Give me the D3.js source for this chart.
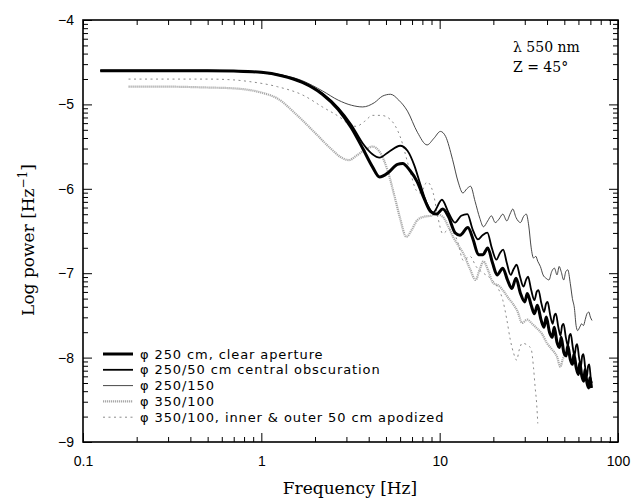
<!DOCTYPE html>
<html><head><meta charset="utf-8">
<script src="https://cdn.jsdelivr.net/npm/d3@7"></script>
<style>body{margin:0;background:#fff}svg{display:block}</style>
</head><body>
<script>
const xTicks = [0.1, 1, 10, 100];
const xTickLabels = ["0.1", "1", "10", "100"];
const yTicks = [-9, -8, -7, -6, -5, -4];
const yTickLabels = ["\u22129", "\u22128", "\u22127", "\u22126", "\u22125", "\u22124"];
const legendLabels = [
  "\u03c6 250 cm, clear aperture",
  "\u03c6 250/50 cm central obscuration",
  "\u03c6 250/150",
  "\u03c6 350/100",
  "\u03c6 350/100, inner & outer 50 cm apodized"
];
const clearAperture = [[0.125,-4.60],[0.2,-4.60],[0.3,-4.60],[0.5,-4.60],[0.7,-4.605],[1.0,-4.62],[1.3,-4.66],[1.7,-4.74],[2.2,-4.88],[2.7,-5.06],[3.2,-5.28],[3.7,-5.52],[4.2,-5.74],[4.6,-5.86],[5.2,-5.80],[5.8,-5.71],[6.2,-5.70],[6.8,-5.78],[7.5,-5.92],[8.2,-6.12],[8.9,-6.27],[9.6,-6.30],[10.4,-6.24],[11.2,-6.33],[12.2,-6.52],[13.0,-6.55],[14.4,-6.46],[15.4,-6.60],[16.5,-6.78],[17.5,-6.78],[18.6,-6.70],[19.8,-6.88],[21,-7.02],[22.6,-6.94],[24,-7.08],[25.4,-7.18],[26.8,-7.06],[28.4,-7.24],[30,-7.34],[31,-7.24],[32.6,-7.38],[34,-7.48],[35.3,-7.38],[37,-7.55],[38.5,-7.64],[39.6,-7.52],[41.3,-7.70],[42.8,-7.76],[43.9,-7.64],[45.5,-7.82],[47,-7.88],[48,-7.76],[49.7,-7.94],[51.2,-7.98],[52.3,-7.86],[54,-8.02],[55.6,-8.08],[56.6,-7.96],[58.3,-8.12],[60,-8.2],[61,-8.06],[62.7,-8.22],[64.3,-8.28],[65.3,-8.14],[67,-8.30],[68.6,-8.36],[69.5,-8.24],[71,-8.36]];
const centralObsc = [[0.125,-4.60],[0.3,-4.60],[0.5,-4.60],[0.7,-4.605],[1.0,-4.62],[1.3,-4.66],[1.7,-4.74],[2.2,-4.87],[2.7,-5.04],[3.2,-5.24],[3.7,-5.46],[4.2,-5.59],[4.6,-5.63],[5.2,-5.56],[6.0,-5.49],[6.6,-5.55],[7.2,-5.72],[7.8,-5.95],[8.5,-6.18],[9.2,-6.28],[10.3,-6.13],[11.2,-6.28],[12.2,-6.40],[13.2,-6.32],[14.3,-6.30],[15.3,-6.48],[16.4,-6.60],[17.4,-6.55],[18.5,-6.52],[19.6,-6.70],[20.8,-6.84],[21.8,-6.76],[22.7,-6.72],[23.8,-6.88],[25,-7.02],[26,-6.95],[27,-6.90],[28.2,-7.04],[29.5,-7.16],[30.5,-7.08],[31.3,-7.04],[32.6,-7.20],[34,-7.32],[35,-7.22],[35.8,-7.20],[37.2,-7.36],[38.5,-7.46],[39.5,-7.36],[40.3,-7.34],[41.7,-7.50],[43,-7.60],[44,-7.50],[44.8,-7.48],[46.3,-7.64],[47.6,-7.74],[48.6,-7.62],[49.5,-7.60],[51,-7.76],[52.4,-7.86],[53.4,-7.74],[54.3,-7.72],[55.8,-7.88],[57,-7.98],[58.2,-7.86],[59,-7.84],[60.5,-8.0],[62,-8.10],[63,-7.98],[64,-7.96],[65.5,-8.12],[67,-8.22],[68,-8.10],[69,-8.08],[70.5,-8.26],[71.5,-8.30]];
const obsc150 = [[0.125,-4.60],[0.3,-4.60],[0.5,-4.60],[0.7,-4.605],[1.0,-4.62],[1.3,-4.65],[1.7,-4.72],[2.2,-4.84],[2.7,-4.95],[3.2,-5.01],[3.7,-5.03],[4.3,-4.98],[4.8,-4.90],[5.3,-4.88],[5.9,-4.95],[6.6,-5.08],[7.5,-5.33],[8.5,-5.48],[9.3,-5.40],[10.1,-5.32],[10.8,-5.38],[11.8,-5.65],[12.7,-5.92],[13.5,-6.05],[14.2,-6.00],[14.9,-5.97],[15.8,-6.15],[16.8,-6.35],[17.6,-6.45],[18.6,-6.38],[19.5,-6.32],[20.5,-6.40],[21.5,-6.36],[22.6,-6.30],[23.8,-6.38],[24.8,-6.30],[25.7,-6.24],[26.8,-6.34],[28.4,-6.40],[29.5,-6.33],[30.6,-6.30],[31.6,-6.44],[32.6,-6.70],[33.6,-6.82],[34.6,-6.80],[35.5,-6.86],[36.7,-6.92],[38,-7.02],[39.5,-7.06],[41,-7.08],[42.5,-6.98],[44,-6.94],[45.5,-7.02],[46.8,-6.92],[48,-6.98],[49.6,-7.08],[51,-6.98],[52.3,-6.96],[54,-7.12],[55.5,-7.30],[57,-7.42],[58.2,-7.62],[59.4,-7.68],[61,-7.64],[62.5,-7.60],[64,-7.62],[65.5,-7.55],[67,-7.48],[68.6,-7.46],[70,-7.52],[71.5,-7.56]];
const obsc350 = [[0.18,-4.79],[0.3,-4.79],[0.5,-4.80],[0.7,-4.81],[0.86,-4.83],[1.0,-4.86],[1.23,-4.93],[1.59,-5.13],[2.05,-5.36],[2.44,-5.52],[2.87,-5.64],[3.1,-5.66],[3.4,-5.61],[3.8,-5.54],[4.2,-5.50],[4.6,-5.56],[5.1,-5.78],[5.6,-6.10],[6.0,-6.35],[6.5,-6.57],[7.0,-6.48],[7.5,-6.37],[8.2,-6.33],[8.9,-6.32],[9.6,-6.30],[10.4,-6.33],[11.2,-6.45],[11.9,-6.57],[12.8,-6.68],[13.6,-6.77],[14.8,-6.95],[15.9,-7.08],[16.8,-6.95],[17.6,-6.86],[18.8,-6.98],[20,-7.12],[21.2,-7.14],[22.6,-7.20],[24,-7.28],[25.7,-7.36],[27.3,-7.45],[29,-7.59],[31,-7.55],[33,-7.60],[35,-7.65],[37.5,-7.72],[40,-7.83],[42.5,-7.90],[45.5,-7.99],[47.5,-8.11],[49,-8.02],[50.5,-7.96]];
const apodized = [[0.18,-4.70],[0.3,-4.70],[0.5,-4.70],[0.7,-4.71],[0.86,-4.73],[1.23,-4.79],[1.71,-4.89],[2.2,-5.03],[2.87,-5.18],[3.1,-5.24],[3.4,-5.26],[3.8,-5.20],[4.2,-5.13],[4.7,-5.13],[5.3,-5.18],[6.0,-5.38],[6.8,-5.78],[7.4,-6.02],[7.8,-6.05],[8.5,-5.92],[9.2,-6.05],[9.8,-6.35],[10.4,-6.53],[11.3,-6.48],[12.5,-6.60],[13.6,-6.85],[14.8,-6.80],[16,-6.92],[17.6,-7.00],[19,-7.05],[21,-7.16],[22.6,-7.32],[23.8,-7.55],[24.9,-7.79],[26,-7.95],[27,-8.03],[28,-7.90],[29,-7.83],[31,-7.85],[32.6,-7.90],[33.6,-8.12],[34.3,-8.35],[35,-8.55],[35.5,-8.78]];

const W = 635, H = 502;
const m = {left: 83, right: 618, top: 20, bottom: 442};
const svg = d3.select("body").append("svg").attr("width", W).attr("height", H);
const x = d3.scaleLog().domain([0.1, 100]).range([m.left, m.right]);
const y = d3.scaleLinear().domain([-9, -4]).range([m.bottom, m.top]);

const series = [
  {data: clearAperture, color: "#000", width: 3, dash: null},
  {data: centralObsc, color: "#000", width: 1.8, dash: null},
  {data: obsc150, color: "#333", width: 0.9, dash: null},
  {data: obsc350, color: "#a8a8a8", width: 2.2, dash: "1.2 0.8"},
  {data: apodized, color: "#8a8a8a", width: 1, dash: "2 3.5"}
];

const line = d3.line().x(d => x(d[0])).y(d => y(d[1])).curve(d3.curveMonotoneX);
const g = svg.append("g");
[4, 3, 2, 1, 0].forEach(i => {
  const s = series[i];
  g.append("path").datum(s.data).attr("d", line)
    .attr("fill", "none").attr("stroke", s.color).attr("stroke-width", s.width)
    .attr("stroke-dasharray", s.dash).attr("stroke-linejoin", "round");
});

const xMinor = [];
[0.1, 1, 10].forEach(d => { for (let k = 2; k <= 9; k++) xMinor.push(d * k); });
const yMinor = [];
[-9, -8, -7, -6, -5].forEach(n => { for (let k = 2; k <= 9; k++) yMinor.push(n + Math.log10(k)); });

const axB = d3.axisBottom(x).tickValues(xTicks).tickSize(-9).tickFormat((d, i) => xTickLabels[i]);
const axBm = d3.axisBottom(x).tickValues(xMinor).tickSize(-5).tickFormat("");
const axT = d3.axisTop(x).tickValues(xTicks).tickSize(-9).tickFormat("");
const axTm = d3.axisTop(x).tickValues(xMinor).tickSize(-5).tickFormat("");
const axL = d3.axisLeft(y).tickValues(yTicks).tickSize(-9).tickFormat((d, i) => yTickLabels[i]);
const axLm = d3.axisLeft(y).tickValues(yMinor).tickSize(-5).tickFormat("");
const axR = d3.axisRight(y).tickValues(yTicks).tickSize(-9).tickFormat("");
const axRm = d3.axisRight(y).tickValues(yMinor).tickSize(-5).tickFormat("");

function styleAxis(sel) {
  sel.select(".domain").remove();
  sel.selectAll(".tick line").attr("stroke", "#000").attr("stroke-width", 1);
  sel.selectAll("text").attr("fill", "#000").style("font-family", "'Liberation Sans', Arial, sans-serif").style("font-size", "14px");
}
svg.append("g").attr("transform", `translate(0,${m.bottom})`).call(axB).call(styleAxis)
  .selectAll("text").attr("dy", "1.05em").attr("y", 9);
svg.append("g").attr("transform", `translate(0,${m.bottom})`).call(axBm).call(styleAxis);
svg.append("g").attr("transform", `translate(0,${m.top})`).call(axT).call(styleAxis);
svg.append("g").attr("transform", `translate(0,${m.top})`).call(axTm).call(styleAxis);
svg.append("g").attr("transform", `translate(${m.left},0)`).call(axL).call(styleAxis)
  .selectAll("text").attr("x", -9);
svg.append("g").attr("transform", `translate(${m.left},0)`).call(axLm).call(styleAxis);
svg.append("g").attr("transform", `translate(${m.right},0)`).call(axR).call(styleAxis);
svg.append("g").attr("transform", `translate(${m.right},0)`).call(axRm).call(styleAxis);

svg.append("rect").attr("x", m.left).attr("y", m.top).attr("width", m.right - m.left).attr("height", m.bottom - m.top)
  .attr("fill", "none").attr("stroke", "#000").attr("stroke-width", 1.6);

svg.append("text").attr("x", 350).attr("y", 494).attr("text-anchor", "middle").attr("fill", "#000")
  .style("font-family", "'DejaVu Serif', serif").style("font-size", "17px").text("Frequency [Hz]");
const yt = svg.append("text").attr("transform", "translate(34,240) rotate(-90)").attr("text-anchor", "middle").attr("fill", "#000")
  .style("font-family", "'DejaVu Serif', serif").style("font-size", "17px");
yt.append("tspan").text("Log power [Hz");
yt.append("tspan").attr("dy", -7).style("font-size", "12px").text("\u22121");
yt.append("tspan").attr("dy", 7).text("]");

svg.append("text").attr("x", 513).attr("y", 52).attr("fill", "#000").style("font-family", "'DejaVu Serif', serif").style("font-size", "14px").text("\u03bb 550 nm");
svg.append("text").attr("x", 513).attr("y", 72).attr("fill", "#000").style("font-family", "'DejaVu Serif', serif").style("font-size", "14px").text("Z = 45\u00b0");

const ly0 = 354, ldy = 15.8;
legendLabels.forEach((lab, i) => {
  const s = series[i];
  const yy = ly0 + i * ldy;
  svg.append("line").attr("x1", 103).attr("x2", 133).attr("y1", yy).attr("y2", yy)
    .attr("stroke", s.color).attr("stroke-width", s.width).attr("stroke-dasharray", s.dash);
  svg.append("text").attr("x", 140).attr("y", yy + 4.5).attr("fill", "#000")
    .style("font-family", "'DejaVu Sans', sans-serif").style("font-size", "13px").style("letter-spacing", "0.9px").text(lab);
});
</script>
</body></html>
